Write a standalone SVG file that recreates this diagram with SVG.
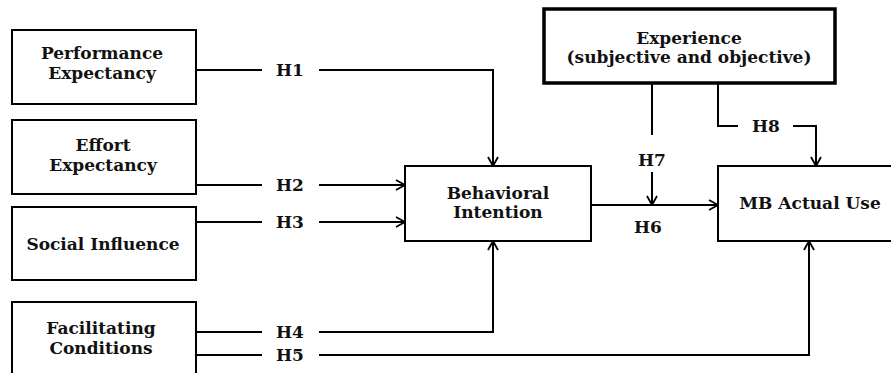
<svg xmlns="http://www.w3.org/2000/svg" width="891" height="373" viewBox="0 0 891 373">
<defs>
<style>
.box{fill:#fff;stroke:#000;stroke-width:2}
.thick{fill:#fff;stroke:#000;stroke-width:3.5}
.t{font-family:"DejaVu Serif","Liberation Serif",serif;font-weight:bold;font-size:17px;fill:#111;text-anchor:middle}
.c{fill:none;stroke:#000;stroke-width:2}
</style>
<marker id="a" viewBox="0 0 10 12" refX="10" refY="6" markerWidth="10" markerHeight="12" markerUnits="userSpaceOnUse" orient="auto">
<path d="M1,1 L10,6 L1,11" fill="none" stroke="#000" stroke-width="1.8"/>
</marker>
</defs>
<rect width="891" height="373" fill="#fff"/>
<g id="connectors">
<path class="c" d="M196,70 H262"/>
<path class="c" d="M319,70 H493 V166" marker-end="url(#a)"/>
<path class="c" d="M196,185 H262"/>
<path class="c" d="M319,185 H405" marker-end="url(#a)"/>
<path class="c" d="M196,222 H262"/>
<path class="c" d="M319,222 H405" marker-end="url(#a)"/>
<path class="c" d="M196,332 H262"/>
<path class="c" d="M319,332 H493 V241" marker-end="url(#a)"/>
<path class="c" d="M196,355 H262"/>
<path class="c" d="M319,355 H809 V241" marker-end="url(#a)"/>
<path class="c" d="M591,205 H718" marker-end="url(#a)"/>
<path class="c" d="M652,83 V135"/>
<path class="c" d="M652,172 V205" marker-end="url(#a)"/>
<path class="c" d="M718,83 V126 H738"/>
<path class="c" d="M793,126 H816 V166" marker-end="url(#a)"/>
<text class="t" x="290" y="76">H1</text>
<text class="t" x="290" y="191">H2</text>
<text class="t" x="290" y="228">H3</text>
<text class="t" x="290" y="338">H4</text>
<text class="t" x="290" y="361">H5</text>
<text class="t" x="648" y="233">H6</text>
<text class="t" x="652" y="166">H7</text>
<text class="t" x="766" y="132">H8</text>
</g>
<g id="performance">
<rect class="box" x="12" y="30" width="184" height="74"/>
<text class="t" x="102" y="59">Performance</text>
<text class="t" x="102" y="79">Expectancy</text>
</g>
<g id="effort">
<rect class="box" x="12" y="120" width="184" height="74"/>
<text class="t" x="103" y="151">Effort</text>
<text class="t" x="103" y="171">Expectancy</text>
</g>
<g id="social">
<rect class="box" x="12" y="207" width="184" height="73"/>
<text class="t" x="103" y="250">Social Influence</text>
</g>
<g id="facilitating">
<rect class="box" x="12" y="302" width="184" height="90"/>
<text class="t" x="101" y="334">Facilitating</text>
<text class="t" x="101" y="354">Conditions</text>
</g>
<g id="behavioral">
<rect class="box" x="405" y="166" width="186" height="75"/>
<text class="t" x="498" y="199">Behavioral</text>
<text class="t" x="498" y="218">Intention</text>
</g>
<g id="mbuse">
<rect class="box" x="718" y="166" width="190" height="75"/>
<text class="t" x="810" y="209">MB Actual Use</text>
</g>
<g id="experience">
<rect class="thick" x="544" y="9" width="291" height="74"/>
<text class="t" x="689" y="44">Experience</text>
<text class="t" x="689" y="63">(subjective and objective)</text>
</g>
</svg>
